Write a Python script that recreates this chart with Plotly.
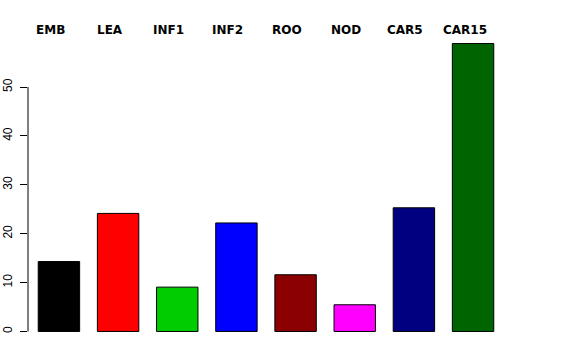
import plotly.graph_objects as go

categories = ["EMB", "LEA", "INF1", "INF2", "ROO", "NOD", "CAR5", "CAR15"]
values = [14.3, 24.15, 9.07, 22.2, 11.6, 5.46, 25.3, 58.9]
colors = ["#000000", "#FF0000", "#00CD00", "#0000FF", "#8B0000", "#FF00FF", "#000080", "#006400"]
y_ticks = [0, 10, 20, 30, 40, 50]

xpos = list(range(len(categories)))

fig = go.Figure()
fig.add_trace(go.Bar(
    x=xpos, y=values, width=0.7,
    marker=dict(color=colors, line=dict(color="black", width=1)),
    showlegend=False, hoverinfo="skip",
))

annotations = []
for i, c in enumerate(categories):
    annotations.append(dict(
        x=i, y=1, xref="x", yref="paper", text="<b>%s</b>" % c,
        showarrow=False, yanchor="middle", yshift=2, xshift=-8.5,
        font=dict(family="DejaVu Sans, sans-serif", size=12, color="black"),
    ))

fig.update_layout(
    width=576, height=360,
    margin=dict(l=28, r=72, t=32, b=17, pad=0),
    plot_bgcolor="white", paper_bgcolor="white",
    font=dict(family="Liberation Sans, Arial, sans-serif", size=12, color="black"),
    annotations=annotations,
    shapes=[dict(type="line", xref="paper", yref="y", x0=0, x1=0,
                 y0=y_ticks[0], y1=y_ticks[-1], line=dict(color="black", width=1))],
    xaxis=dict(range=[-0.523, 7.523], showticklabels=False, showgrid=False,
               zeroline=False, showline=False, ticks="", automargin=False),
    yaxis=dict(range=[-2.36, 61.26], tickvals=y_ticks, ticktext=[str(v) for v in y_ticks],
               tickangle=-90, ticks="outside", ticklen=7, tickcolor="black", tickwidth=1,
               showgrid=False, zeroline=False, showline=False, automargin=False,
               ticklabelstandoff=3,
               tickfont=dict(size=12, color="black")),
)

fig.write_html("out.html", config={"displayModeBar": False},
               post_script="document.body.style.margin='0';")
